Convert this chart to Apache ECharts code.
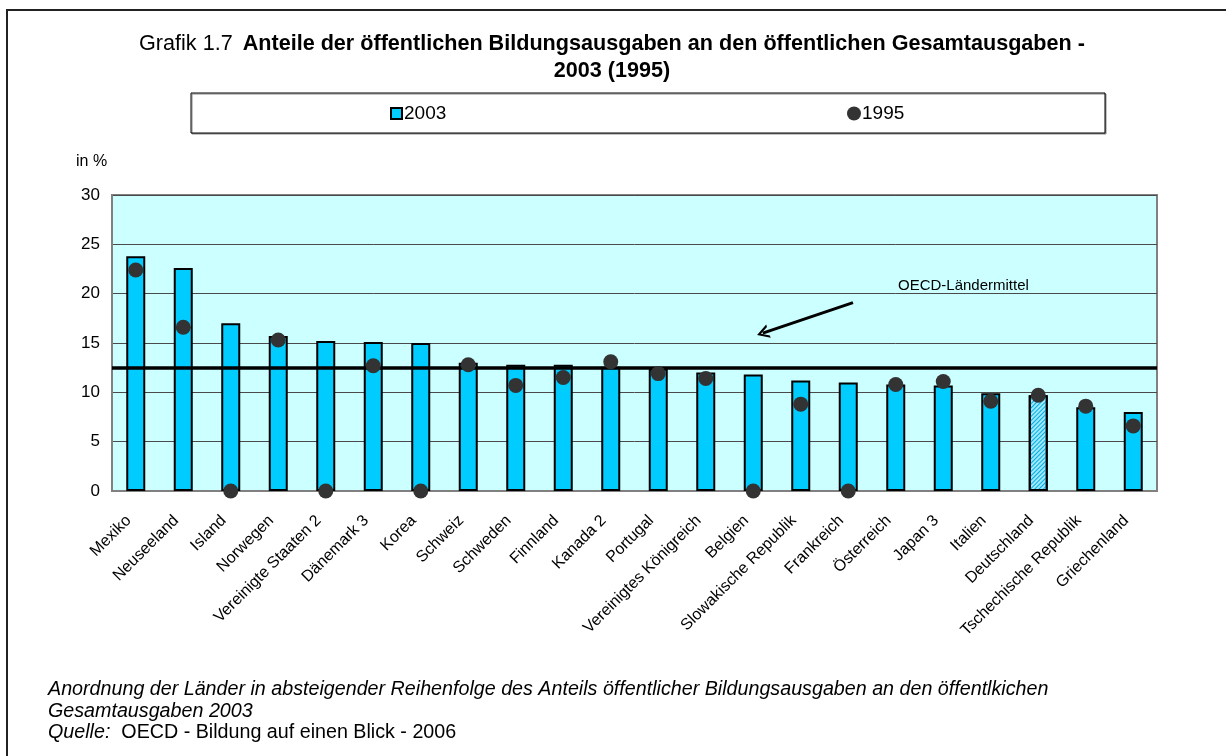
<!DOCTYPE html>
<html>
<head>
<meta charset="utf-8">
<title>Grafik 1.7</title>
<script src="https://cdn.jsdelivr.net/npm/echarts@6/dist/echarts.min.js"></script>
<style>
  html, body { margin: 0; padding: 0; background: #fff; }
  #main { width: 1226px; height: 756px; }
</style>
</head>
<body>
<div id="main"></div>
<script>
const categories = ['Mexiko', 'Neuseeland', 'Island', 'Norwegen', 'Vereinigte Staaten 2', 'Dänemark 3', 'Korea',
  'Schweiz', 'Schweden', 'Finnland', 'Kanada 2', 'Portugal', 'Vereinigtes Königreich', 'Belgien',
  'Slowakische Republik', 'Frankreich', 'Österreich', 'Japan 3', 'Italien', 'Deutschland',
  'Tschechische Republik', 'Griechenland'];
const values2003 = [23.8, 22.6, 17.0, 15.7, 15.2, 15.1, 15.0, 13.0, 12.8, 12.8, 12.6, 12.4, 12.0, 11.8, 11.2, 11.0, 10.8, 10.7, 9.9, 9.7, 8.5, 8.0];
const values1995 = [22.4, 16.6, 0, 15.3, 0, 12.7, 0, 12.8, 10.7, 11.5, 13.1, 11.9, 11.4, 0, 8.8, 0, 10.8, 11.1, 9.1, 9.7, 8.6, 6.6];
const oecdMean = 12.5;
// arrow pointing at the mean line: [category index, value]
const arrowFrom = [15.1, 19.1];
const arrowTo = [13.2, 16.0];
const yTicks = [0, 5, 10, 15, 20, 25, 30];

const FONT = 'Arial, "Liberation Sans", sans-serif';
const hatched = 'Deutschland';

const chart = echarts.init(document.getElementById('main'));

chart.setOption({
  textStyle: { fontFamily: FONT },
  title: [
    {
      left: 607,
      textAlign: 'center',
      top: 28,
      text: '{n|Grafik 1.7}  {b|Anteile der öffentlichen Bildungsausgaben an den öffentlichen Gesamtausgaben -}',
      textStyle: {
        rich: {
          n: { fontSize: 21.6, fontWeight: 'normal', color: '#000', fontFamily: FONT },
          b: { fontSize: 21.6, fontWeight: 'bold', color: '#000', fontFamily: FONT }
        }
      }
    },
    {
      left: 607,
      textAlign: 'center',
      top: 55,
      text: '2003 (1995)',
      textStyle: { fontSize: 21.6, fontWeight: 'bold', color: '#000', fontFamily: FONT }
    }
  ],
  legend: [
    {
      data: [{ name: '2003', icon: 'rect' }],
      left: 390,
      top: 104,
      padding: 0,
      itemWidth: 11,
      itemHeight: 11,
      textStyle: { fontSize: 19, color: '#000', fontFamily: FONT, padding: [0, 0, 0, -3] }
    },
    {
      data: [{ name: '1995', icon: 'circle' }],
      left: 847,
      top: 104,
      padding: 0,
      itemWidth: 14,
      itemHeight: 14,
      textStyle: { fontSize: 19, color: '#000', fontFamily: FONT, padding: [0, 0, 0, -4] }
    }
  ],
  graphic: [
    {
      type: 'rect',
      z: -10,
      shape: { x: 7, y: 10, width: 1240, height: 800 },
      style: { fill: 'none', stroke: '#222', lineWidth: 2 }
    },
    {
      type: 'rect',
      z: -5,
      shape: { x: 191, y: 93, width: 914, height: 40 },
      style: { fill: '#fff', stroke: '#000', lineWidth: 1, shadowColor: '#888', shadowOffsetX: 1, shadowOffsetY: 1 }
    },
    {
      type: 'text',
      left: 76,
      top: 154,
      style: { text: 'in %', font: '16px ' + FONT, fill: '#000' }
    },
    {
      type: 'text',
      left: 898,
      top: 278,
      z: 20,
      style: { text: 'OECD-Ländermittel', font: '15px ' + FONT, fill: '#000' }
    },
    {
      type: 'text',
      left: 48,
      top: 679,
      style: {
        text: 'Anordnung der Länder in absteigender Reihenfolge des Anteils öffentlicher Bildungsausgaben an den öffentlkichen\nGesamtausgaben 2003',
        font: 'italic 19.7px ' + FONT,
        lineHeight: 22,
        fill: '#000'
      }
    },
    {
      type: 'text',
      left: 48,
      top: 723,
      style: {
        text: '{i|Quelle:}  OECD - Bildung auf einen Blick - 2006',
        font: '19.7px ' + FONT,
        fill: '#000',
        rich: { i: { font: 'italic 19.7px ' + FONT, fill: '#000' } }
      }
    }
  ],
  grid: {
    left: 112,
    right: 69,
    top: 195,
    bottom: 265,
    show: true,
    backgroundColor: '#CCFFFF',
    borderColor: '#808080',
    borderWidth: 2
  },
  xAxis: [
    {
      type: 'category',
      data: categories,
      axisTick: { show: false },
      axisLine: { lineStyle: { color: '#808080', width: 2 } },
      axisLabel: {
        interval: 0,
        rotate: 45,
        margin: 20,
        padding: [0, 10, 0, 0],
        fontSize: 16,
        color: '#000',
        fontFamily: FONT
      }
    },
    {
      type: 'value',
      min: -0.5,
      max: categories.length - 0.5,
      show: false
    }
  ],
  yAxis: {
    type: 'value',
    min: yTicks[0],
    max: yTicks[yTicks.length - 1],
    interval: 5,
    axisLine: { show: true, onZero: false, lineStyle: { color: '#808080', width: 2 } },
    axisTick: { show: false },
    axisLabel: { fontSize: 17, color: '#000', margin: 12, fontFamily: FONT },
    splitLine: { lineStyle: { color: '#4a4a4a', width: 1 } }
  },
  series: [
    {
      name: '2003',
      type: 'bar',
      barWidth: 19,
      z: 2,
      itemStyle: { color: '#00CCFF', borderColor: '#000', borderWidth: 2 },
      data: values2003.map((v, i) => categories[i] === hatched ? {
        value: v,
        itemStyle: {
          color: '#9FE8FF',
          decal: {
            symbol: 'rect',
            symbolSize: 1,
            color: '#00AEE0',
            dashArrayX: [1, 0],
            dashArrayY: [1, 2],
            rotation: -Math.PI / 4
          }
        }
      } : v),
      markLine: {
        silent: true,
        symbol: 'none',
        z: 5,
        label: { show: false },
        lineStyle: { color: '#000', width: 3.5, type: 'solid' },
        data: [{ yAxis: oecdMean }]
      }
    },
    {
      name: '1995',
      type: 'scatter',
      z: 10,
      symbol: 'circle',
      symbolSize: 15,
      itemStyle: { color: '#333333', opacity: 1 },
      data: values1995
    },
    {
      name: 'arrow',
      type: 'line',
      xAxisIndex: 1,
      data: [],
      silent: true,
      markLine: {
        silent: true,
        symbol: ['none', 'path://M5,0 L10,10 L8.2,10 L5,3.4 L1.8,10 L0,10 Z'],
        symbolSize: [14, 12],
        label: { show: false },
        lineStyle: { color: '#000', width: 3, type: 'solid' },
        data: [[{ coord: arrowFrom }, { coord: arrowTo }]]
      }
    }
  ]
});
</script>
</body>
</html>
